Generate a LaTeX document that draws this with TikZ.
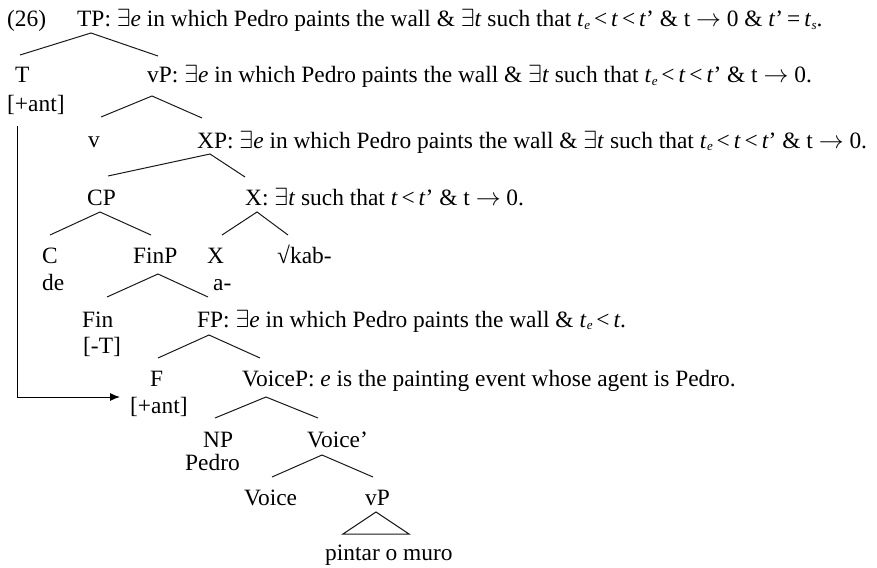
\documentclass[tikz,border=0pt]{standalone}
\usepackage{fontspec}
\usetikzlibrary{arrows.meta}
\setmainfont{Liberation Serif}
\newcommand{\Exi}{\ensuremath{\exists}}
\newcommand{\Arr}{\ensuremath{\rightarrow}}
\newcommand{\Tsub}[1]{\textit{t}\kern0.3pt\raisebox{-0.25ex}{\fontsize{13}{13}\selectfont\textit{#1}}}
\begin{document}
\begin{tikzpicture}[x=1pt,y=-1pt,
  lab/.style={inner sep=0pt,anchor=base west,font=\fontsize{23.4}{27}\selectfont},
  br/.style={line width=1pt,black!90},
  arr/.style={line width=1pt,-{Latex[length=10pt,width=8pt]}}]
\useasboundingbox (0,0) rectangle (877,567);
% labels
\node[lab] (num) at (7,27) {(26)};
\node[lab] (TP) at (77,27) {TP: \Exi\textit{e} in which Pedro paints the wall \& \Exi\textit{t} such that \Tsub{e}\,<\,\textit{t}\,<\,\textit{t}’ \& t \Arr{} 0 \& \textit{t}’\,=\,\Tsub{s}.};
\node[lab] (T) at (15,83) {T};
\node[lab] (Tf) at (7,112) {[+ant]};
\node[lab] (vP) at (147,83) {vP: \Exi\textit{e} in which Pedro paints the wall \& \Exi\textit{t} such that \Tsub{e}\,<\,\textit{t}\,<\,\textit{t}’ \& t \Arr{} 0.};
\node[lab] (v) at (88,147) {v};
\node[lab] (XP) at (197,148) {XP: \Exi\textit{e} in which Pedro paints the wall \& \Exi\textit{t} such that \Tsub{e}\,<\,\textit{t}\,<\,\textit{t}’ \& t \Arr{} 0.};
\node[lab] (CP) at (87,205) {CP};
\node[lab] (Xbar) at (245,205) {X: \Exi\textit{t} such that \textit{t}\,<\,\textit{t}’ \& t \Arr{} 0.};
\node[lab] (C) at (42,263) {C};
\node[lab] (FinP) at (133,263) {FinP};
\node[lab] (X) at (207,263) {X};
\node[lab] (kab) at (277,263) {√kab-};
\node[lab] (de) at (42,290) {de};
\node[lab] (a) at (213,290) {a-};
\node[lab] (Fin) at (82,327) {Fin};
\node[lab] (FP) at (197,327) {FP: \Exi\textit{e} in which Pedro paints the wall \& \Tsub{e}\,<\,\textit{t}.};
\node[lab] (Finf) at (83,353) {[-T]};
\node[lab] (F) at (150,386) {F};
\node[lab] (VoiceP) at (242,386) {VoiceP: \textit{e} is the painting event whose agent is Pedro.};
\node[lab] (Ff) at (130,413) {[+ant]};
\node[lab] (NP) at (203,447) {NP};
\node[lab] (Voicebar) at (307,447) {Voice’};
\node[lab] (Pedro) at (185,470) {Pedro};
\node[lab] (Voice) at (244,505) {Voice};
\node[lab] (vPlow) at (365,505) {vP};
\node[lab] (muro) at (325,560) {pintar o muro};
% branch points
\coordinate (tp0) at (91,33);  \coordinate (tp1) at (20,55);  \coordinate (tp2) at (158,56);
\coordinate (vp0) at (152,96); \coordinate (vp1) at (101,117); \coordinate (vp2) at (202,118);
\coordinate (xp0) at (210,154); \coordinate (xp1) at (108,176); \coordinate (xp2) at (245,177);
\coordinate (cp0) at (100,212); \coordinate (cp1) at (50,235); \coordinate (cp2) at (151,235);
\coordinate (xb0) at (257,212); \coordinate (xb1) at (222,235); \coordinate (xb2) at (288,235);
\coordinate (fn0) at (158,274); \coordinate (fn1) at (107,297); \coordinate (fn2) at (208,297);
\coordinate (fp0) at (209,335); \coordinate (fp1) at (158,358); \coordinate (fp2) at (260,358);
\coordinate (vo0) at (266,397); \coordinate (vo1) at (215,418); \coordinate (vo2) at (318,418);
\coordinate (vb0) at (322,455); \coordinate (vb1) at (272,477); \coordinate (vb2) at (373,477);
\coordinate (tr0) at (376,512); \coordinate (tr1) at (343,534); \coordinate (tr2) at (409,534);
\draw[br] (tp1) -- (tp0) -- (tp2);
\draw[br] (vp1) -- (vp0) -- (vp2);
\draw[br] (xp1) -- (xp0) -- (xp2);
\draw[br] (cp1) -- (cp0) -- (cp2);
\draw[br] (xb1) -- (xb0) -- (xb2);
\draw[br] (fn1) -- (fn0) -- (fn2);
\draw[br] (fp1) -- (fp0) -- (fp2);
\draw[br] (vo1) -- (vo0) -- (vo2);
\draw[br] (vb1) -- (vb0) -- (vb2);
\draw[br] (tr0) -- (tr1) -- (tr2) -- cycle;
% arrow
\coordinate (a0) at (17,126);
\coordinate (a1) at (120,397);
\draw[arr] (a0) |- (a1);
\end{tikzpicture}
\end{document}
